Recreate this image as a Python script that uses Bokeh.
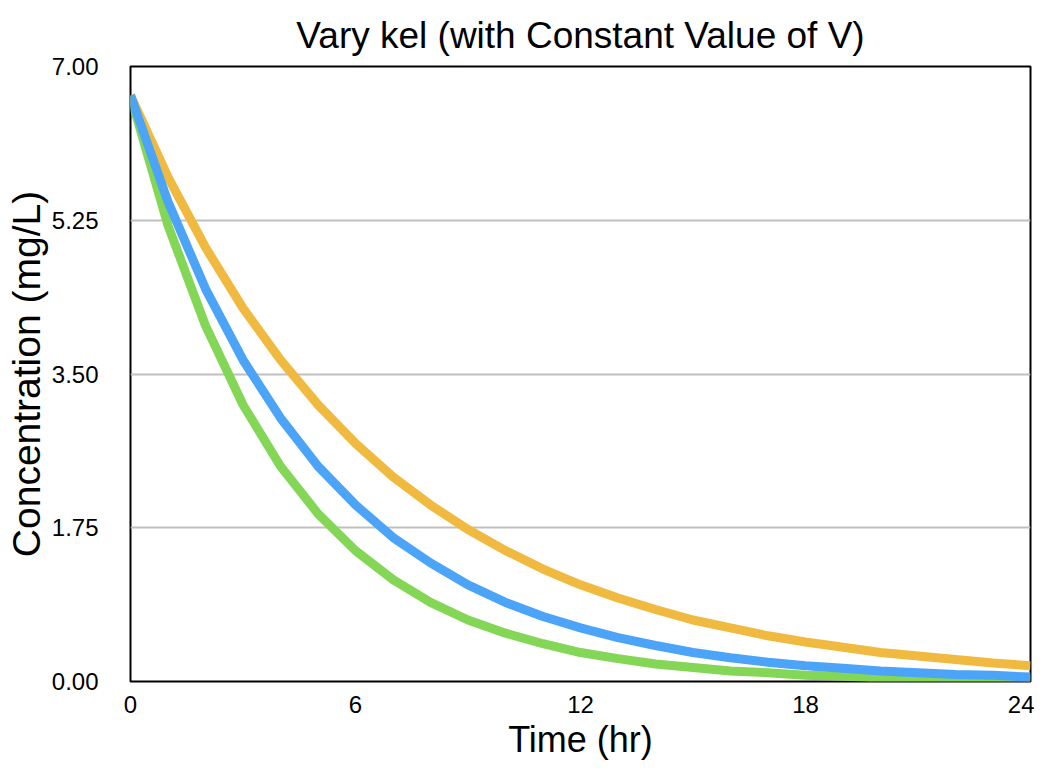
from bokeh.plotting import figure
from bokeh.models import FixedTicker, NumeralTickFormatter, Range1d
from bokeh.embed import file_html
from bokeh.resources import INLINE

# Data
time_hr = list(range(0, 25))
conc_orange = [6.67, 5.74, 4.94, 4.25, 3.66, 3.15, 2.71, 2.33, 2.01, 1.73, 1.49, 1.28, 1.10,
               0.95, 0.82, 0.70, 0.61, 0.52, 0.45, 0.39, 0.33, 0.29, 0.25, 0.21, 0.18]
conc_blue = [6.67, 5.46, 4.47, 3.66, 3.00, 2.45, 2.01, 1.64, 1.35, 1.10, 0.90, 0.74, 0.61,
             0.50, 0.41, 0.33, 0.27, 0.22, 0.18, 0.15, 0.12, 0.10, 0.08, 0.07, 0.05]
conc_green = [6.67, 5.19, 4.05, 3.15, 2.45, 1.91, 1.49, 1.16, 0.90, 0.70, 0.55, 0.43, 0.33,
              0.26, 0.20, 0.16, 0.12, 0.10, 0.07, 0.06, 0.04, 0.03, 0.03, 0.02, 0.02]
x_ticks = [0, 6, 12, 18, 24]
y_ticks = [0.0, 1.75, 3.5, 5.25, 7.0]

FONT = "Liberation Sans"

p = figure(width=1034, height=763, output_backend="svg", toolbar_location=None,
           x_range=Range1d(0, 24), y_range=Range1d(0, 7),
           min_border_left=130, min_border_right=4, min_border_top=66, min_border_bottom=82,
           title="Vary kel (with Constant Value of V)")

p.title.text_font = FONT
p.title.text_font_size = "37px"
p.title.text_font_style = "normal"
p.title.align = "center"
p.title.text_color = "black"
p.title.vertical_align = "bottom"
p.title.standoff = 22

p.outline_line_color = "black"
p.outline_line_width = 2
p.background_fill_color = "white"
p.border_fill_color = "white"

p.xgrid.grid_line_color = None
p.ygrid.grid_line_color = "#C0C0C0"
p.ygrid.grid_line_width = 2

for ax in (p.xaxis, p.yaxis):
    ax.axis_line_color = None
    ax.major_tick_line_color = None
    ax.minor_tick_line_color = None
    ax.major_label_text_font = FONT
    ax.major_label_text_font_size = "24px"
    ax.major_label_text_color = "black"
    ax.axis_label_text_font = FONT
    ax.axis_label_text_font_style = "normal"
    ax.axis_label_text_color = "black"

p.xaxis.axis_label_text_font_size = "36px"
p.yaxis.axis_label_text_font_size = "39px"
p.xaxis.ticker = FixedTicker(ticks=x_ticks)
p.yaxis.ticker = FixedTicker(ticks=y_ticks)
p.yaxis.formatter = NumeralTickFormatter(format="0.00")
p.xaxis.axis_label = "Time (hr)"
p.yaxis.axis_label = "Concentration (mg/L)"
p.xaxis.major_label_standoff = 8
p.yaxis.major_label_standoff = 26
p.xaxis.axis_label_standoff = 3
p.yaxis.axis_label_standoff = 1

p.line(time_hr, conc_orange, line_color="#F0BA41", line_width=9)
p.line(time_hr, conc_green, line_color="#84D656", line_width=9)
p.line(time_hr, conc_blue, line_color="#4BA4F7", line_width=9)

open("out.html", "w").write(file_html(p, INLINE))
